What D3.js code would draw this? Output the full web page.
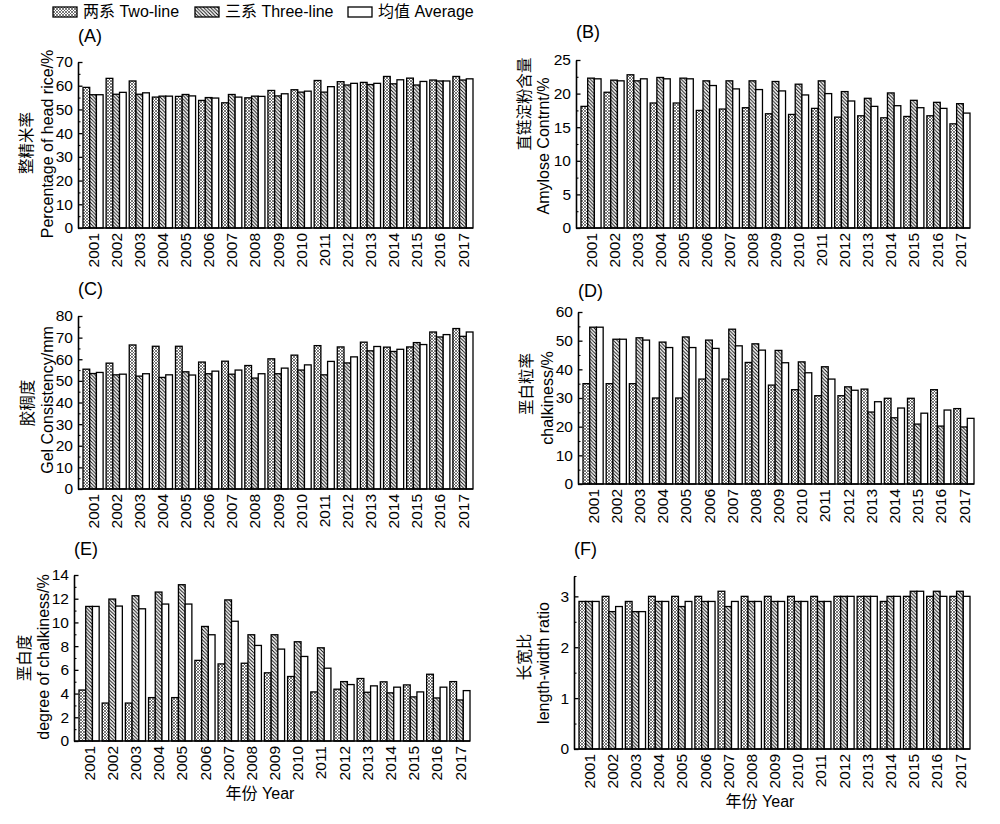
<!DOCTYPE html>
<html>
<head>
<meta charset="utf-8">
<script src="https://cdn.jsdelivr.net/npm/d3@7"></script>
<style>
body { margin: 0; background: #fff; }
text { font-family: "Liberation Sans", Arial, "Noto Sans CJK SC", sans-serif; fill: #000; }
</style>
</head>
<body>
<div id="chart"></div>
<script>
// data
var years = ["2001","2002","2003","2004","2005","2006","2007","2008","2009",
             "2010","2011","2012","2013","2014","2015","2016","2017"];
var seriesNames = ["两系 Two-line", "三系 Three-line", "均值 Average"];

// (A) head rice
var headTwo   = [59.3,63.1,62.0,55.2,55.5,53.8,52.8,54.9,58.0,58.3,62.2,61.7,61.4,63.9,63.2,62.4,63.9];
var headThree = [56.2,56.4,56.4,55.6,56.3,55.0,56.3,55.6,55.7,57.3,57.3,60.3,60.5,60.8,60.3,62.0,62.4];
var headAvg   = [56.2,57.2,57.0,55.6,55.7,54.8,55.2,55.5,56.6,57.7,59.6,61.0,61.0,62.5,61.8,62.0,62.9];
// (B) amylose
var amyTwo    = [18.1,20.2,22.8,18.6,18.6,17.5,17.7,17.9,17.0,16.9,17.8,16.5,16.7,16.4,16.6,16.7,15.5];
var amyThree  = [22.3,22.0,21.9,22.4,22.3,21.9,21.9,21.9,21.8,21.4,21.9,20.3,19.3,20.1,19.0,18.7,18.5];
var amyAvg    = [22.2,21.9,22.2,22.2,22.2,21.2,20.7,20.6,20.4,19.8,20.0,18.9,18.1,18.2,17.9,17.8,17.1];
// (C) gel consistency
var gelTwo    = [55.4,58.2,66.6,66.0,66.0,58.7,59.1,57.1,60.2,61.9,66.3,65.7,67.9,65.6,65.7,72.6,74.2];
var gelThree  = [53.4,52.8,52.2,51.6,54.2,53.3,53.1,51.3,53.3,55.0,52.8,58.3,63.9,63.6,67.7,70.3,70.6];
var gelAvg    = [53.9,53.1,53.3,52.8,52.7,54.5,55.0,53.3,55.9,57.4,59.0,61.1,65.9,64.6,66.8,71.4,72.6];
// (D) chalkiness rate
var chalkTwo   = [35.0,35.0,35.0,30.0,30.0,36.6,36.6,42.4,34.5,32.9,30.8,30.8,33.1,29.9,29.9,32.9,26.3];
var chalkThree = [54.7,50.5,51.0,49.5,51.3,50.2,54.0,48.9,46.6,42.6,40.9,33.9,25.1,23.1,20.9,20.2,19.9];
var chalkAvg   = [54.7,50.5,50.2,47.6,47.6,47.3,48.2,46.7,42.3,38.8,36.6,32.7,28.7,26.5,24.7,25.8,22.9];
// (E) degree of chalkiness
var degTwo    = [4.30,3.20,3.20,3.66,3.66,6.80,6.50,6.56,5.75,5.44,4.14,4.37,5.27,4.99,4.73,5.63,5.01];
var degThree  = [11.35,11.97,12.25,12.56,13.18,9.66,11.90,8.96,8.96,8.37,7.86,5.01,4.11,4.06,3.72,3.63,3.46];
var degAvg    = [11.35,11.38,11.15,11.55,11.55,8.96,10.10,8.06,7.75,7.13,6.14,4.76,4.65,4.54,4.14,4.54,4.25];
// (F) length-width ratio
var lwTwo     = [2.9,3.0,2.9,3.0,3.0,3.0,3.1,3.0,3.0,3.0,3.0,3.0,3.0,2.9,3.0,3.0,3.0];
var lwThree   = [2.9,2.7,2.7,2.9,2.8,2.9,2.8,2.9,2.9,2.9,2.9,3.0,3.0,3.0,3.1,3.1,3.1];
var lwAvg     = [2.9,2.8,2.7,2.9,2.9,2.9,2.9,2.9,2.9,2.9,2.9,3.0,3.0,3.0,3.1,3.0,3.0];

var svg = d3.select("#chart")
            .append("svg")
            .attr("width", 1000)
            .attr("height", 824);

// fill patterns
var defs = svg.append("defs");
var pTwo = defs.append("pattern")
               .attr("id", "patTwo")
               .attr("patternUnits", "userSpaceOnUse")
               .attr("width", 3).attr("height", 3);
pTwo.append("rect").attr("width", 3).attr("height", 3).attr("fill", "#fff");
pTwo.append("path").attr("d", "M0,0 L3,3 M3,0 L0,3")
    .attr("stroke", "#444").attr("stroke-width", 0.7);

var pThree = defs.append("pattern")
                 .attr("id", "patThree")
                 .attr("patternUnits", "userSpaceOnUse")
                 .attr("width", 3.5).attr("height", 3.5);
pThree.append("rect").attr("width", 3.5).attr("height", 3.5).attr("fill", "#fff");
pThree.append("path").attr("d", "M-1,-1 L4.5,4.5 M-1,2.5 L1,4.5 M2.5,-1 L4.5,1")
      .attr("stroke", "#000").attr("stroke-width", 0.9);

var fills = ["url(#patTwo)", "url(#patThree)", "#fff"];

var panels = [
  {tag:"(A)", left:78,  right:473, top:62,  bottom:228, max:70, step:10, minor:5,
   data:[headTwo, headThree, headAvg], cn:"整精米率", en:"Percentage of head rice/%",
   cnX:27, enX:47, cnY:143, enY:144, tagY:42},
  {tag:"(B)", left:576, right:970, top:60,  bottom:228, max:25, step:5, minor:2.5,
   data:[amyTwo, amyThree, amyAvg], cn:"直链淀粉含量", en:"Amylose Contrnt/%",
   cnX:525, enX:543, cnY:104, enY:146, tagY:38},
  {tag:"(C)", left:78,  right:473, top:316, bottom:489, max:80, step:10, minor:5,
   data:[gelTwo, gelThree, gelAvg], cn:"胶稠度", en:"Gel Consistency/mm",
   cnX:28, enX:47, cnY:403, enY:400, tagY:295},
  {tag:"(D)", left:578, right:974, top:312, bottom:484, max:60, step:10, minor:5,
   data:[chalkTwo, chalkThree, chalkAvg], cn:"垩白粒率", en:"chalkiness/%",
   cnX:527, enX:547, cnY:384, enY:398, tagY:297},
  {tag:"(E)", left:74,  right:470, top:575, bottom:741, max:14, step:2, minor:1,
   data:[degTwo, degThree, degAvg], cn:"垩白度", en:"degree of chalkiness/%",
   cnX:25, enX:43, cnY:658, enY:657, tagY:555, xTitle:true},
  {tag:"(F)", left:574, right:970, top:576, bottom:749, max:3.4, step:1, minor:0.5,
   data:[lwTwo, lwThree, lwAvg], cn:"长宽比", en:"length-width ratio",
   cnX:525, enX:543, cnY:657, enY:663, tagY:555, xTitle:true, last:3.4}
];

function drawPanel(p) {
  var g = svg.append("g");
  var y = d3.scaleLinear().domain([0, p.max]).range([p.bottom, p.top]);
  var x = d3.scaleBand().domain(years)
            .range([p.left + 5, p.right])
            .paddingInner(0.13).paddingOuter(0);
  var xs = d3.scaleBand().domain([0, 1, 2]).range([0, x.bandwidth()]);

  // bars
  years.forEach(function(yr, i) {
    p.data.forEach(function(arr, s) {
      g.append("rect")
       .attr("x", x(yr) + xs(s))
       .attr("y", y(arr[i]))
       .attr("width", xs.bandwidth())
       .attr("height", y(0) - y(arr[i]))
       .attr("fill", fills[s])
       .attr("stroke", "#000")
       .attr("stroke-width", 1.3);
    });
  });

  // y axis, ticks pointing inward
  var major = d3.range(0, p.max + 0.001, p.step);
  var minor = d3.range(p.minor, p.max + 0.001, p.step);
  if (p.last) minor.push(p.last);
  var ya = g.append("g")
            .attr("transform", "translate(" + p.left + ",0)")
            .call(d3.axisLeft(y).tickValues(major).tickSize(-4.5).tickSizeOuter(0).tickPadding(5)
                    .tickFormat(d3.format("d")));
  ya.select(".domain").attr("stroke-width", 1.6);
  ya.selectAll(".tick line").attr("stroke-width", 1.3);
  ya.selectAll("text").style("font-size", "15.5px").attr("fill", "#000");
  var ym = g.append("g")
            .attr("transform", "translate(" + p.left + ",0)")
            .call(d3.axisLeft(y).tickValues(minor).tickSize(-2.5).tickSizeOuter(0).tickFormat(""));
  ym.select(".domain").remove();
  ym.selectAll(".tick line").attr("stroke-width", 1.1);

  // x axis
  var xa = g.append("g")
            .attr("transform", "translate(0," + p.bottom + ")")
            .call(d3.axisBottom(x).tickSize(0));
  xa.select(".domain").remove();
  xa.selectAll("text")
    .attr("transform", "rotate(-90)")
    .attr("x", -5).attr("y", 0).attr("dy", "0.36em")
    .attr("fill", "#000")
    .style("text-anchor", "end")
    .style("font-size", "15.5px");
  g.append("line")
   .attr("x1", p.left).attr("x2", p.right)
   .attr("y1", p.bottom).attr("y2", p.bottom)
   .attr("stroke", "#000").attr("stroke-width", 1.6);

  // titles
  g.append("text").attr("x", p.left).attr("y", p.tagY)
   .style("font-size", "18px").text(p.tag);
  g.append("text")
   .attr("transform", "translate(" + p.cnX + "," + p.cnY + ") rotate(-90)")
   .attr("dy", "0.35em").style("text-anchor", "middle")
   .attr("fill", "#000")
   .style("font-family", "'Noto Sans CJK SC', sans-serif")
   .style("font-size", "15.5px").text(p.cn);
  g.append("text")
   .attr("transform", "translate(" + p.enX + "," + p.enY + ") rotate(-90)")
   .attr("dy", "0.35em").style("text-anchor", "middle")
   .style("font-size", "16px").text(p.en);
  if (p.xTitle) {
    g.append("text")
     .attr("x", (p.left + p.right) / 2 - 12)
     .attr("y", p.bottom + 58)
     .style("text-anchor", "middle")
     .style("font-size", "16px")
     .text("年份 Year");
  }
}

panels.forEach(drawPanel);

// legend
var legX = [53, 195, 348];
var leg = svg.append("g");
seriesNames.forEach(function(name, i) {
  leg.append("rect")
     .attr("x", legX[i]).attr("y", 7)
     .attr("width", 24).attr("height", 10)
     .attr("fill", fills[i]).attr("stroke", "#000").attr("stroke-width", 1.3);
  leg.append("text")
     .attr("x", legX[i] + 30).attr("y", 17)
     .style("font-size", "16px")
     .text(name);
});
</script>
</body>
</html>
